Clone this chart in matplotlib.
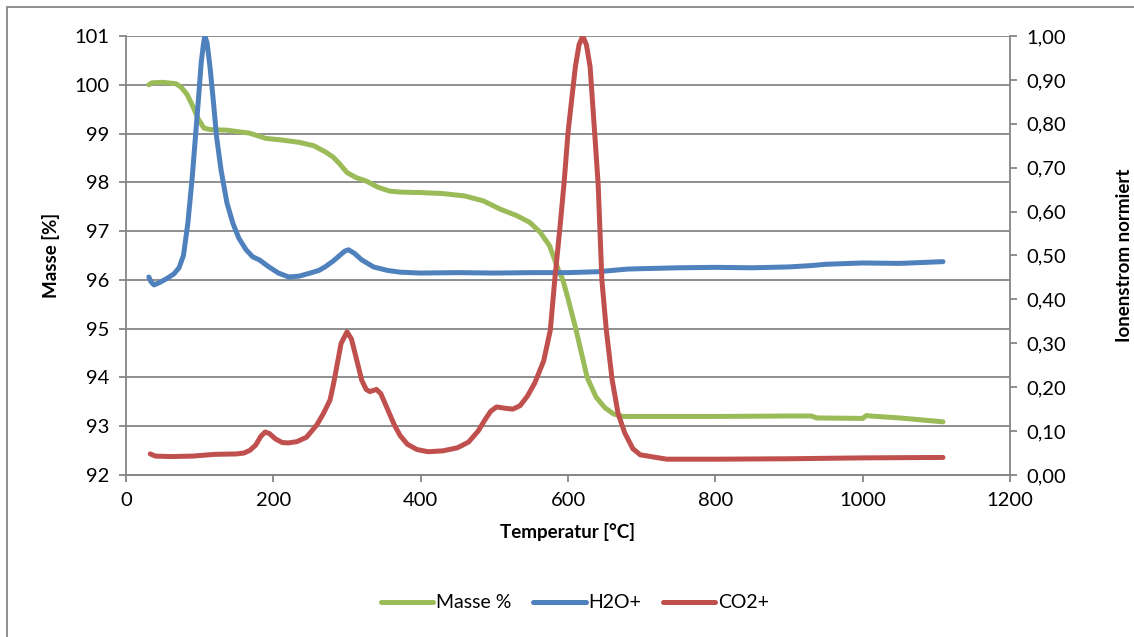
import matplotlib.pyplot as plt
from matplotlib.patches import Rectangle
from matplotlib.ticker import FuncFormatter, MultipleLocator

OUTPUT_IMAGE = "out.png"

# Masse % (linke Achse)
masse_t = [31, 35, 50, 68, 75, 83, 91, 98, 106, 115, 136, 167, 180, 190, 210, 235, 255, 271,
           281, 290, 300, 312, 327, 342, 358, 372, 400, 430, 460, 485, 508, 530, 548, 562,
           575, 587, 593, 600, 611, 626, 638, 650, 662, 675, 700, 800, 900, 930, 938, 1000,
           1005, 1010, 1050, 1109]
masse = [100.0, 100.04, 100.05, 100.02, 99.95, 99.8, 99.55, 99.3, 99.11, 99.08, 99.07, 99.01,
         98.95, 98.9, 98.87, 98.82, 98.75, 98.62, 98.52, 98.38, 98.2, 98.1, 98.02, 97.9, 97.82,
         97.8, 97.79, 97.77, 97.72, 97.62, 97.45, 97.32, 97.18, 96.98, 96.7, 96.2, 96.0, 95.62,
         94.97, 94.0, 93.6, 93.38, 93.25, 93.2, 93.2, 93.2, 93.21, 93.21, 93.17, 93.16, 93.22,
         93.21, 93.17, 93.09]

# H2O+ (rechte Achse, normiert)
h2o_t = [31, 34, 38, 45, 55, 65, 72, 78, 84, 90, 95, 99, 102, 105, 107, 110, 114, 118, 123,
         129, 137, 145, 153, 163, 172, 181, 194, 207, 221, 235, 250, 262, 271, 281, 290, 297,
         302, 310, 320, 336, 355, 372, 400, 450, 500, 550, 600, 640, 660, 680, 700, 750, 800,
         850, 900, 930, 950, 1000, 1050, 1109]
h2o = [0.451, 0.44, 0.433, 0.438, 0.447, 0.458, 0.472, 0.50, 0.574, 0.68, 0.786, 0.87, 0.938,
       0.98, 1.0, 0.985, 0.93, 0.862, 0.77, 0.695, 0.62, 0.574, 0.54, 0.513, 0.497, 0.49,
       0.474, 0.46, 0.451, 0.453, 0.46, 0.466, 0.475, 0.487, 0.5, 0.51, 0.513, 0.505, 0.49,
       0.474, 0.466, 0.462, 0.46, 0.461, 0.46, 0.461, 0.461, 0.463, 0.466, 0.469, 0.47, 0.472,
       0.473, 0.472, 0.474, 0.477, 0.48, 0.483, 0.482, 0.486]

# CO2+ (rechte Achse, normiert)
co2_t = [33, 40, 60, 90, 120, 150, 160, 168, 176, 183, 189, 195, 203, 212, 220, 232, 245, 259,
         268, 277, 282, 286, 292, 300, 306, 312, 320, 326, 331, 340, 346, 355, 364, 372, 382,
         395, 410, 430, 450, 465, 478, 487, 495, 503, 515, 525, 535, 545, 555, 567, 576, 582,
         590, 595, 600, 610, 615, 620, 625, 630, 637, 641, 646, 652, 660, 668, 677, 688, 698,
         734, 800, 900, 1000, 1109]
co2 = [0.048, 0.043, 0.042, 0.043, 0.047, 0.048, 0.05, 0.056, 0.068, 0.088, 0.098, 0.094,
       0.082, 0.074, 0.073, 0.076, 0.086, 0.114, 0.14, 0.171, 0.21, 0.246, 0.3, 0.326, 0.31,
       0.27, 0.216, 0.195, 0.19, 0.195, 0.185, 0.15, 0.115, 0.09, 0.07, 0.058, 0.053, 0.055,
       0.062, 0.075, 0.1, 0.125, 0.145, 0.155, 0.152, 0.15, 0.158, 0.18, 0.21, 0.26, 0.33,
       0.444, 0.58, 0.672, 0.78, 0.93, 0.98, 1.0, 0.98, 0.93, 0.76, 0.66, 0.444, 0.33, 0.216,
       0.14, 0.096, 0.06, 0.046, 0.036, 0.036, 0.037, 0.039, 0.040]

GREEN = "#9BBB59"
BLUE = "#4F81BD"
RED = "#C0504D"
GRAY = "#868686"

plt.rcParams['font.family'] = ['Lato', 'DejaVu Sans']
plt.rcParams['font.size'] = 14.5

W, H = 1134, 637
fig = plt.figure(figsize=(W / 100, H / 100), dpi=100)
ax = fig.add_axes([126 / W, 1 - 475 / H, 884 / W, 439 / H])
ax2 = ax.twinx()

lw = 3.6
l1, = ax.plot(masse_t, masse, color=GREEN, lw=lw, solid_capstyle='round', solid_joinstyle='round', label="Masse %")
l2, = ax2.plot(h2o_t, h2o, color=BLUE, lw=lw, solid_capstyle='round', solid_joinstyle='round', label="H2O+")
l3, = ax2.plot(co2_t, co2, color=RED, lw=lw, solid_capstyle='round', solid_joinstyle='round', label="CO2+")

ax.set_xlim(0, 1200)
ax.set_ylim(92, 101)
ax2.set_ylim(0, 1.0)
ax.xaxis.set_major_locator(MultipleLocator(200))
ax.yaxis.set_major_locator(MultipleLocator(1))
ax2.yaxis.set_major_locator(MultipleLocator(0.1))
ax2.yaxis.set_major_formatter(FuncFormatter(lambda v, p: f"{v:.2f}".replace(".", ",")))

ax.grid(axis='y', color=GRAY, lw=1.3)
ax.set_axisbelow(True)

for a in (ax, ax2):
    a.spines['top'].set_visible(False)
    for s in ('left', 'right', 'bottom'):
        a.spines[s].set_color(GRAY)
        a.spines[s].set_linewidth(1.3)
    a.tick_params(color=GRAY, width=1.3, length=5, labelcolor='black')
ax.spines['right'].set_visible(False)
ax2.spines['left'].set_visible(False)
ax.tick_params(axis='y', pad=7)
ax.tick_params(axis='x', pad=7)
ax2.tick_params(axis='y', pad=7)

ax.set_xlabel("Temperatur [°C]", fontsize=13.5, fontweight='bold', labelpad=10)
ax.set_ylabel("Masse [%]", fontsize=13.5, fontweight='bold', labelpad=10)
ax2.set_ylabel("Ionenstrom normiert", fontsize=13.5, fontweight='bold', labelpad=36)

fig.legend(handles=[l1, l2, l3], loc='center', bbox_to_anchor=(575 / W, 1 - 603 / H),
           ncol=3, frameon=False, fontsize=14, handlelength=2.7, handletextpad=0.15,
           columnspacing=1.1)

fig.add_artist(Rectangle((7 / W, -0.1), 1.2, (H - 7) / H + 0.1, transform=fig.transFigure,
                         fill=False, edgecolor=GRAY, lw=1.3))

plt.savefig(OUTPUT_IMAGE)
